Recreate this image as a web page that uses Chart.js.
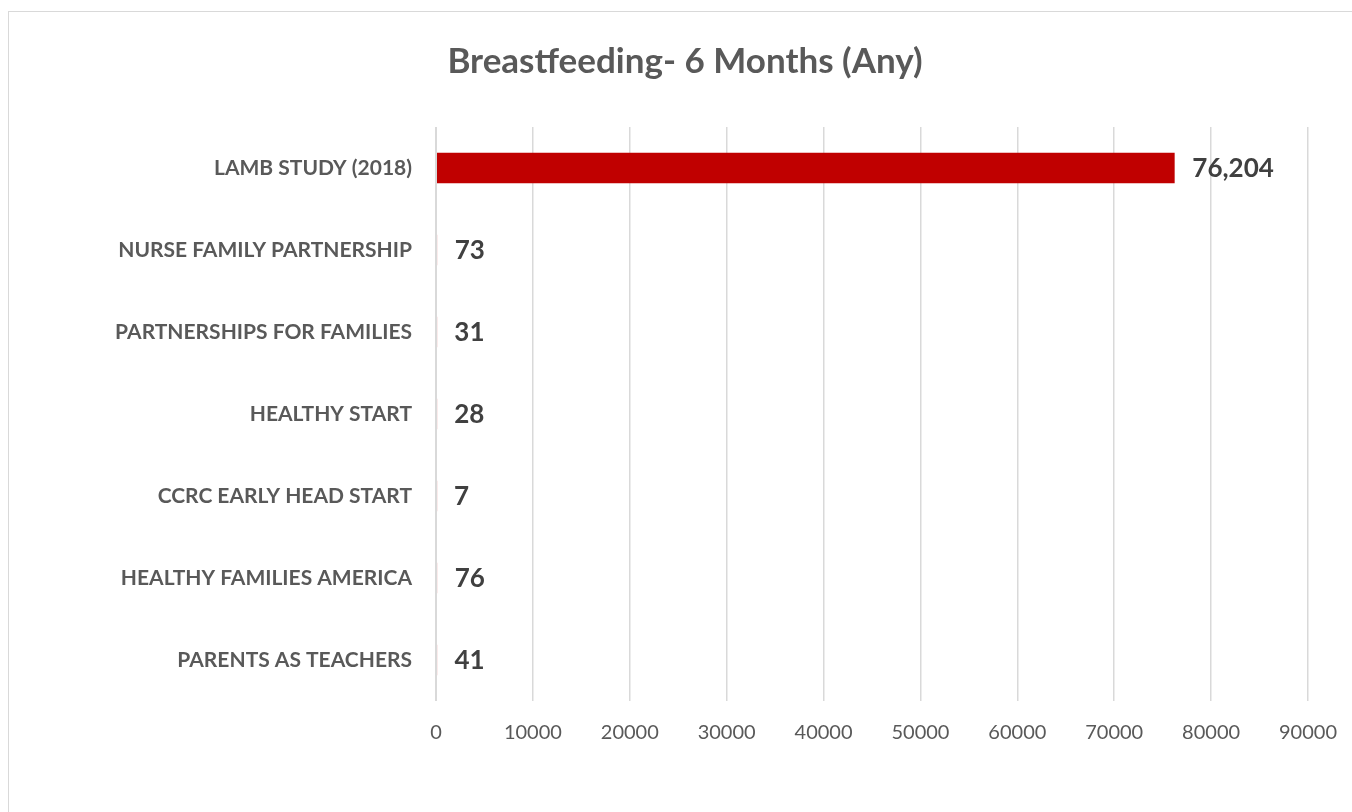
<!DOCTYPE html>
<html>
<head>
<meta charset="utf-8">
<script src="https://cdn.jsdelivr.net/npm/chart.js@4.4.0/dist/chart.umd.min.js"></script>
<style>
  html, body { margin: 0; padding: 0; background: #ffffff; overflow: hidden; }
  #frame { position: absolute; left: 8px; top: 11px; width: 1400px; height: 900px; border: 1.5px solid #d9d9d9; box-sizing: border-box; }
  #wrap { position: absolute; left: 0; top: 0; width: 1352px; height: 812px; }
</style>
</head>
<body>
<div id="frame"></div>
<div id="wrap"><canvas id="c" width="1352" height="812"></canvas></div>
<script>
const categories = [
  "LAMB STUDY (2018)",
  "NURSE FAMILY PARTNERSHIP",
  "PARTNERSHIPS FOR FAMILIES",
  "HEALTHY START",
  "CCRC EARLY HEAD START",
  "HEALTHY FAMILIES AMERICA",
  "PARENTS AS TEACHERS"
];
const values = [76204, 73, 31, 28, 7, 76, 41];
const titleText = "Breastfeeding- 6 Months (Any)";
const xMin = 0, xMax = 90000, xStep = 10000;

const valueLabels = {
  id: 'valueLabels',
  afterDatasetsDraw(chart) {
    const ctx = chart.ctx;
    const xs = chart.scales.x;
    const area = chart.chartArea;
    // redraw the zero gridline on top so hair-thin bars do not show a sliver
    ctx.save();
    const x0 = xs.getPixelForValue(0);
    ctx.strokeStyle = '#d9d9d9';
    ctx.lineWidth = 2;
    ctx.beginPath();
    ctx.moveTo(x0, area.top);
    ctx.lineTo(x0, area.bottom);
    ctx.stroke();
    ctx.restore();

    const meta = chart.getDatasetMeta(0);
    ctx.save();
    ctx.font = 'bold 26px Lato';
    ctx.fillStyle = '#404040';
    ctx.textAlign = 'left';
    ctx.textBaseline = 'middle';
    meta.data.forEach((bar, i) => {
      ctx.fillText(values[i].toLocaleString('en-US'), Math.max(bar.x, x0) + 18, bar.y + 1);
    });
    ctx.restore();
  }
};

new Chart(document.getElementById('c'), {
  type: 'bar',
  data: {
    labels: categories,
    datasets: [{
      data: values,
      backgroundColor: '#c00000',
      borderWidth: 0,
      barThickness: 30
    }]
  },
  options: {
    indexAxis: 'y',
    responsive: false,
    animation: false,
    events: [],
    layout: { padding: { left: 18, right: 0, top: 0, bottom: 0 } },
    plugins: {
      legend: { display: false },
      tooltip: { enabled: false },
      title: {
        display: true,
        text: titleText,
        color: '#595959',
        font: { family: 'Lato', size: 35, weight: 'bold' },
        padding: { top: 41, bottom: 44 }
      }
    },
    scales: {
      x: {
        min: xMin, max: xMax,
        ticks: {
          stepSize: xStep,
          color: '#595959',
          font: { family: 'Lato', size: 20 },
          padding: 20,
          callback: v => String(v)
        },
        grid: { color: '#d9d9d9', lineWidth: 1.5, drawTicks: false },
        border: { display: false },
        afterFit(scale) { scale.height = 111; scale.paddingRight = 44; }
      },
      y: {
        ticks: {
          color: '#595959',
          font: { family: 'Lato', size: 21, weight: 'bold' },
          padding: 24
        },
        grid: { display: false, drawTicks: false },
        border: { display: false },
        afterFit(scale) { scale.width = 418; }
      }
    }
  },
  plugins: [valueLabels]
});
</script>
</body>
</html>
